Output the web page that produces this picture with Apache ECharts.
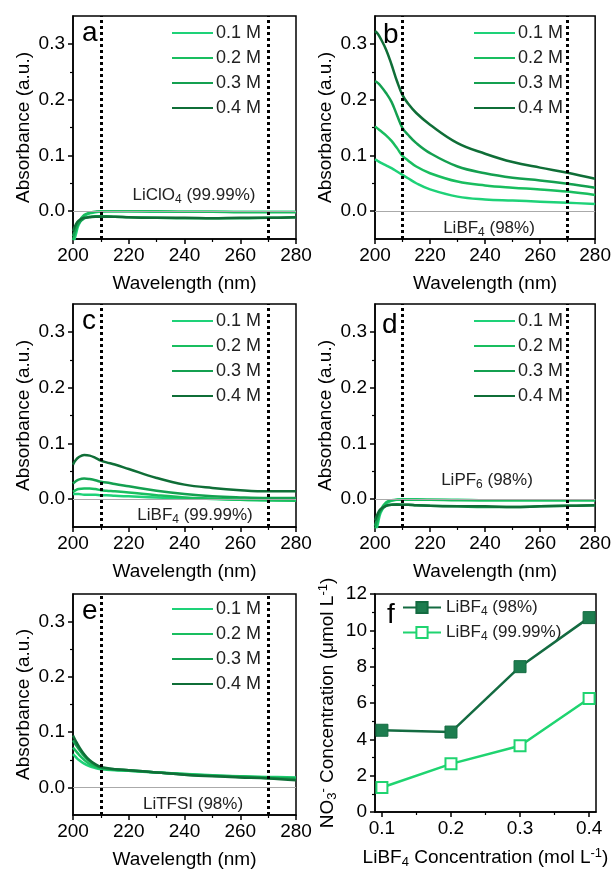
<!DOCTYPE html>
<html>
<head>
<meta charset="utf-8">
<script src="https://cdn.jsdelivr.net/npm/echarts@6/dist/echarts.min.js"></script>
<style>
html, body { margin: 0; padding: 0; background: #fff; }
#chart { width: 614px; height: 870px; }
</style>
</head>
<body>
<div id="chart"></div>
<script>
// wavelengths (nm) the spectra are read at
var wavelength = [200, 201, 202, 204, 206, 208, 210, 212, 215, 220, 230, 240, 250, 260, 270, 280];
var concNames = ['0.1 M', '0.2 M', '0.3 M', '0.4 M'];
var lineColors = ['#1ed278', '#19be5f', '#14a050', '#0f6e37'];

// a: LiClO4 (99.99%)
var liclo4_01 = [-0.06, -0.042, -0.025, -0.009, -0.004, -0.002, -0.001, 0, 0, 0, -0.001, -0.001, -0.001, -0.001, -0.001, -0.001];
var liclo4_02 = [-0.052, -0.035, -0.02, -0.007, -0.003, -0.001, 0, 0, 0, 0, 0, -0.001, -0.001, -0.002, -0.002, -0.002];
var liclo4_03 = [-0.045, -0.032, -0.022, -0.013, -0.01, -0.009, -0.009, -0.009, -0.01, -0.011, -0.012, -0.013, -0.013, -0.013, -0.012, -0.011];
var liclo4_04 = [-0.036, -0.024, -0.017, -0.012, -0.011, -0.01, -0.01, -0.01, -0.01, -0.011, -0.012, -0.012, -0.013, -0.012, -0.012, -0.011];

// b: LiBF4 (98%)
var libf4_98_01 = [0.093, 0.09, 0.087, 0.082, 0.077, 0.071, 0.065, 0.059, 0.05, 0.039, 0.026, 0.021, 0.019, 0.017, 0.015, 0.013];
var libf4_98_02 = [0.152, 0.148, 0.144, 0.136, 0.126, 0.113, 0.099, 0.091, 0.08, 0.068, 0.053, 0.046, 0.042, 0.039, 0.035, 0.029];
var libf4_98_03 = [0.233, 0.23, 0.225, 0.212, 0.196, 0.172, 0.149, 0.137, 0.122, 0.104, 0.08, 0.068, 0.06, 0.055, 0.049, 0.042];
var libf4_98_04 = [0.323, 0.318, 0.31, 0.29, 0.263, 0.233, 0.208, 0.193, 0.176, 0.155, 0.122, 0.103, 0.088, 0.078, 0.069, 0.058];

// c: LiBF4 (99.99%)
var libf4_9999_01 = [0.009, 0.009, 0.009, 0.008, 0.008, 0.008, 0.007, 0.007, 0.006, 0.005, 0.003, 0.002, 0, -0.001, -0.002, -0.002];
var libf4_9999_02 = [0.013, 0.016, 0.018, 0.019, 0.019, 0.018, 0.016, 0.015, 0.014, 0.012, 0.007, 0.003, 0.001, -0.001, -0.002, -0.003];
var libf4_9999_03 = [0.028, 0.032, 0.035, 0.037, 0.036, 0.034, 0.031, 0.03, 0.027, 0.023, 0.015, 0.009, 0.005, 0.003, 0.002, 0.002];
var libf4_9999_04 = [0.062, 0.07, 0.075, 0.079, 0.078, 0.074, 0.069, 0.066, 0.062, 0.054, 0.038, 0.026, 0.02, 0.016, 0.014, 0.014];

// d: LiPF6 (98%)
var lipf6_01 = [-0.065, -0.045, -0.025, -0.008, -0.003, -0.001, 0, 0, 0, -0.001, -0.001, -0.002, -0.002, -0.002, -0.002, -0.002];
var lipf6_02 = [-0.055, -0.038, -0.02, -0.006, -0.002, -0.001, -0.001, -0.001, -0.001, -0.001, -0.002, -0.002, -0.002, -0.002, -0.002, -0.002];
var lipf6_03 = [-0.048, -0.033, -0.021, -0.012, -0.01, -0.009, -0.01, -0.01, -0.011, -0.012, -0.013, -0.014, -0.014, -0.013, -0.012, -0.011];
var lipf6_04 = [-0.038, -0.026, -0.018, -0.012, -0.01, -0.01, -0.01, -0.01, -0.011, -0.012, -0.013, -0.013, -0.014, -0.013, -0.012, -0.011];

// e: LiTFSI (98%)
var litfsi_01 = [0.06, 0.055, 0.05, 0.043, 0.038, 0.035, 0.033, 0.032, 0.031, 0.03, 0.027, 0.024, 0.022, 0.02, 0.019, 0.018];
var litfsi_02 = [0.072, 0.066, 0.06, 0.05, 0.042, 0.037, 0.034, 0.033, 0.032, 0.03, 0.027, 0.024, 0.021, 0.02, 0.018, 0.017];
var litfsi_03 = [0.085, 0.077, 0.07, 0.057, 0.047, 0.04, 0.036, 0.034, 0.033, 0.031, 0.027, 0.023, 0.021, 0.019, 0.017, 0.015];
var litfsi_04 = [0.094, 0.084, 0.075, 0.06, 0.049, 0.042, 0.037, 0.035, 0.033, 0.031, 0.027, 0.023, 0.02, 0.018, 0.016, 0.013];

// f: nitrate concentration vs LiBF4 concentration
var libf4Conc = [0.1, 0.2, 0.3, 0.4];
var no3_98 = [4.5, 4.4, 8.0, 10.7];
var no3_9999 = [1.35, 2.65, 3.65, 6.25];

var FONT = 'Liberation Sans, Arial, sans-serif';
var subRich = {
    n: { fontSize: 17, fontFamily: FONT, color: '#222', lineHeight: 20 },
    s: { fontSize: 12, fontFamily: FONT, color: '#222', lineHeight: 20, padding: [9, 0, 0, 0] },
    p: { fontSize: 12, fontFamily: FONT, color: '#222', lineHeight: 20, padding: [0, 0, 9, 0] }
};
var axisRich = {
    s: { fontSize: 13, fontFamily: FONT, color: '#000', padding: [9, 0, 0, 0] },
    p: { fontSize: 13, fontFamily: FONT, color: '#000', padding: [0, 0, 9, 0] }
};

var panels = [
    { left: 73, top: 16, width: 223, data: [liclo4_01, liclo4_02, liclo4_03, liclo4_04], legendLeft: 171, legendTop: 24 },
    { left: 375, top: 16, width: 221, data: [libf4_98_01, libf4_98_02, libf4_98_03, libf4_98_04], legendLeft: 473, legendTop: 24 },
    { left: 73, top: 304, width: 223, data: [libf4_9999_01, libf4_9999_02, libf4_9999_03, libf4_9999_04], legendLeft: 171, legendTop: 312 },
    { left: 375, top: 304, width: 221, data: [lipf6_01, lipf6_02, lipf6_03, lipf6_04], legendLeft: 473, legendTop: 312 },
    { left: 73, top: 594, width: 223, data: [litfsi_01, litfsi_02, litfsi_03, litfsi_04], legendLeft: 171, legendTop: 600 }
];
var PH = 223;

var grid = [], xAxis = [], yAxis = [], series = [], legend = [];

function axisBase() {
    return {
        axisLine: { onZero: false, lineStyle: { color: '#000', width: 1.5 } },
        axisTick: { length: 5, lineStyle: { color: '#000', width: 1.5 } },
        axisLabel: { fontSize: 19, color: '#000', fontFamily: FONT },
        splitLine: { show: false },
        nameTextStyle: { fontSize: 19, color: '#000', fontFamily: FONT, rich: axisRich }
    };
}

panels.forEach(function (p, i) {
    grid.push({ left: p.left, top: p.top, width: p.width, height: PH, show: true, borderColor: '#000', borderWidth: 1.5 });

    var xa = axisBase();
    xa.gridIndex = i; xa.type = 'value'; xa.position = 'bottom';
    xa.min = 200; xa.max = 280; xa.interval = 20;
    xa.name = 'Wavelength (nm)'; xa.nameLocation = 'middle'; xa.nameGap = 35;
    xa.axisLabel.margin = 7;
    xa.minorTick = { show: true, splitNumber: 2, length: 3, lineStyle: { color: '#000', width: 1.2 } };
    xAxis.push(xa);

    var ya = axisBase();
    ya.gridIndex = i; ya.type = 'value'; ya.position = 'left';
    ya.min = -0.05; ya.max = 0.35; ya.interval = 0.05;
    ya.name = 'Absorbance (a.u.)'; ya.nameLocation = 'middle'; ya.nameGap = 40;
    ya.axisTick.customValues = [0, 0.1, 0.2, 0.3];
    ya.axisLabel.customValues = [0, 0.1, 0.2, 0.3];
    ya.axisLabel.margin = 8;
    ya.axisLabel.formatter = function (v) { return v.toFixed(1); };
    var yIdx = yAxis.length;
    yAxis.push(ya);
    // minor ticks on the same (left) side
    yAxis.push({
        gridIndex: i, type: 'value', position: 'left', min: -0.05, max: 0.35, interval: 0.05,
        axisLine: { show: false }, axisLabel: { show: false }, splitLine: { show: false },
        axisTick: { length: 3, customValues: [0.05, 0.15, 0.25], lineStyle: { color: '#000', width: 1.2 } }
    });

    // zero reference line
    series.push({
        type: 'line', xAxisIndex: i, yAxisIndex: yIdx, data: [], z: 1, silent: true,
        markLine: { silent: true, symbol: ['none', 'none'], label: { show: false }, animation: false,
            lineStyle: { color: '#aaaaaa', width: 1.2, type: 'solid' }, data: [{ yAxis: 0 }] }
    });
    p.data.forEach(function (arr, k) {
        series.push({
            name: concNames[k], type: 'line', xAxisIndex: i, yAxisIndex: yIdx, z: 3,
            data: wavelength.map(function (w, j) { return [w, arr[j]]; }),
            smooth: 0.4, showSymbol: false, symbol: 'none',
            lineStyle: { color: lineColors[k], width: 2.5 }, itemStyle: { color: lineColors[k] }
        });
    });
    // dotted guides at 210 and 270 nm
    series.push({
        type: 'line', xAxisIndex: i, yAxisIndex: yIdx, data: [], z: 5, silent: true,
        markLine: { silent: true, symbol: ['none', 'none'], label: { show: false }, animation: false,
            lineStyle: { color: '#000', width: 3, type: [3, 3] }, data: [{ xAxis: 210 }, { xAxis: 270 }] }
    });

    legend.push({
        left: p.legendLeft, top: p.legendTop, orient: 'vertical', padding: 0,
        itemWidth: 41, itemHeight: 14, itemGap: 7, selectedMode: false,
        itemStyle: { opacity: 0 },
        data: concNames.slice(),
        textStyle: { fontSize: 18, color: '#222', fontFamily: FONT, padding: [0, 0, 0, -2] }
    });
});

// panel f
var fi = 5;
grid.push({ left: 375, top: 594, width: 221, height: PH, show: true, borderColor: '#000', borderWidth: 1.5 });
var fx = axisBase();
fx.gridIndex = fi; fx.type = 'value'; fx.position = 'bottom';
fx.min = 0.09; fx.max = 0.41; fx.interval = 0.01;
fx.axisTick.customValues = [0.1, 0.2, 0.3, 0.4];
fx.axisLabel.customValues = [0.1, 0.2, 0.3, 0.4];
fx.axisLabel.formatter = function (v) { return v.toFixed(1); };
fx.axisLabel.margin = 7;
fx.name = 'LiBF{s|4} Concentration (mol L{p|-1})'; fx.nameLocation = 'middle'; fx.nameGap = 35;
var fxIdx = xAxis.length;
xAxis.push(fx);
xAxis.push({
    gridIndex: fi, type: 'value', position: 'bottom', min: 0.09, max: 0.41, interval: 0.01,
    axisLine: { show: false }, axisLabel: { show: false }, splitLine: { show: false },
    axisTick: { length: 3, customValues: [0.15, 0.25, 0.35], lineStyle: { color: '#000', width: 1.2 } }
});
var fy = axisBase();
fy.gridIndex = fi; fy.type = 'value'; fy.position = 'left';
fy.min = 0; fy.max = 12; fy.interval = 2;
fy.axisLabel.margin = 8;
fy.minorTick = { show: true, splitNumber: 2, length: 3, lineStyle: { color: '#000', width: 1.2 } };
fy.name = 'NO{s|3}{p|-} Concentration (μmol L{p|-1})'; fy.nameLocation = 'middle'; fy.nameGap = 36;
var fyIdx = yAxis.length;
yAxis.push(fy);

var fNames = ['LiBF4 (98%)', 'LiBF4 (99.99%)'];
series.push({
    name: fNames[0], type: 'line', xAxisIndex: fxIdx, yAxisIndex: fyIdx, z: 4,
    data: libf4Conc.map(function (c, j) { return [c, no3_98[j]]; }),
    symbol: 'rect', symbolSize: 12, showSymbol: true,
    lineStyle: { color: '#146b41', width: 2.5 },
    itemStyle: { color: '#1d7d4f', borderColor: '#146b41', borderWidth: 1 }
});
series.push({
    name: fNames[1], type: 'line', xAxisIndex: fxIdx, yAxisIndex: fyIdx, z: 4,
    data: libf4Conc.map(function (c, j) { return [c, no3_9999[j]]; }),
    symbol: 'rect', symbolSize: 11, showSymbol: true,
    lineStyle: { color: '#1fd470', width: 2.5 },
    itemStyle: { color: '#ffffff', borderColor: '#1fd470', borderWidth: 2 }
});
legend.push({
    left: 402, top: 597, orient: 'vertical', padding: 0,
    itemWidth: 38, itemHeight: 14, itemGap: 4, selectedMode: false,
    data: fNames,
    formatter: function (name) {
        return name === fNames[0] ? '{n|LiBF}{s|4}{n| (98%)}' : '{n|LiBF}{s|4}{n| (99.99%)}';
    },
    textStyle: { fontSize: 17, color: '#222', fontFamily: FONT, rich: subRich }
});

function label(txt, x, y) {
    return { type: 'text', x: x, y: y, z: 100,
        style: { text: txt, fontSize: 28, fontFamily: FONT, fill: '#000' } };
}
function note(txt, x, y) {
    return { type: 'text', x: x, y: y, z: 100,
        style: { text: txt, rich: subRich, align: 'center', verticalAlign: 'middle', fill: '#222', fontSize: 17, fontFamily: FONT } };
}

var option = {
    animation: false,
    backgroundColor: '#ffffff',
    grid: grid,
    xAxis: xAxis,
    yAxis: yAxis,
    legend: legend,
    series: series,
    graphic: [
        label('a', 82, 19), label('b', 383, 21), label('c', 82, 307),
        label('d', 382, 311), label('e', 82, 597), label('f', 387, 601),
        note('{n|LiClO}{s|4}{n| (99.99%)}', 194, 195),
        note('{n|LiBF}{s|4}{n| (98%)}', 489, 228),
        note('{n|LiBF}{s|4}{n| (99.99%)}', 195, 515),
        note('{n|LiPF}{s|6}{n| (98%)}', 487, 480),
        note('{n|LiTFSI (98%)}', 193, 804)
    ]
};

var myChart = echarts.init(document.getElementById('chart'));
myChart.setOption(option);
</script>
</body>
</html>
